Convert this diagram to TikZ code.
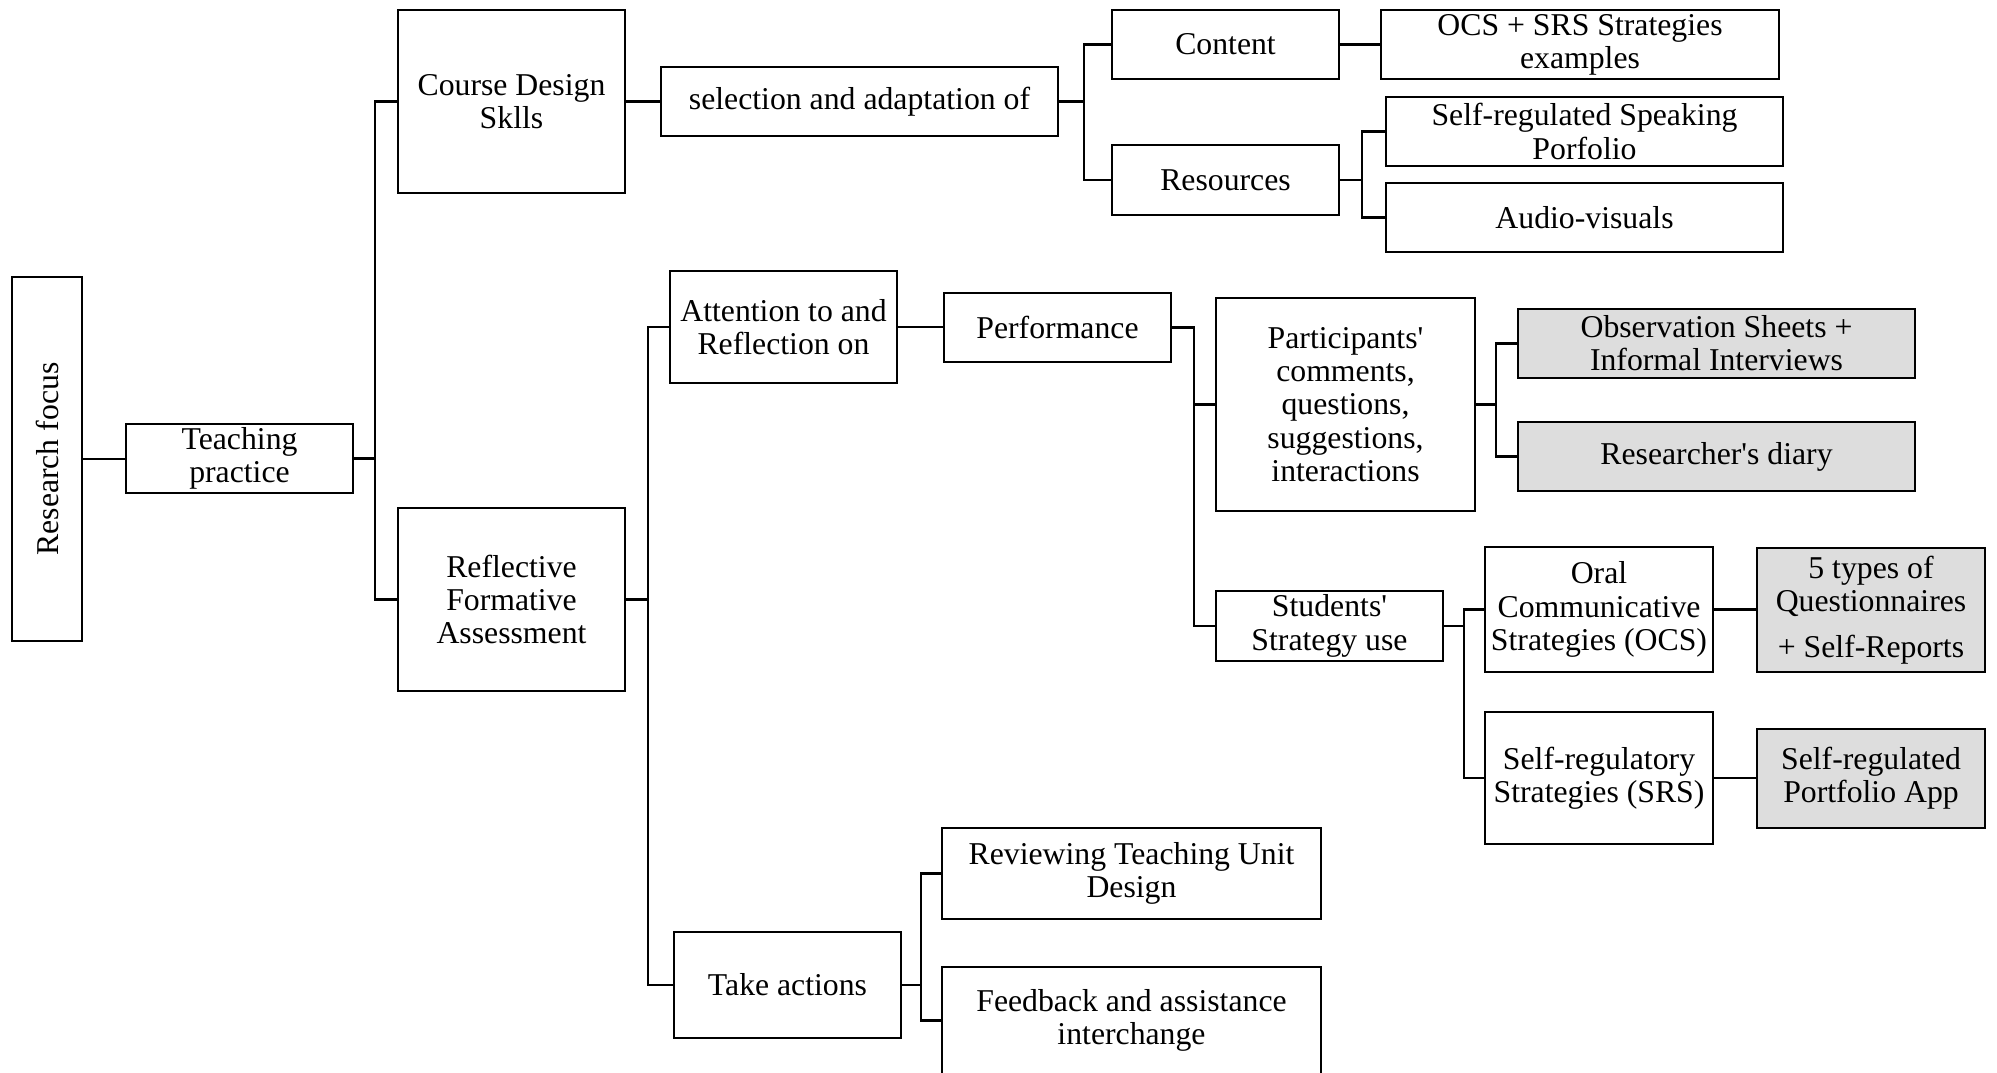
\documentclass[tikz,border=0pt]{standalone}
\usepackage{fontspec}
\setmainfont{Liberation Serif}
\definecolor{boxgray}{RGB}{221,221,221}
% place a box by its corner coordinates: style, name, x1, y1, x2, y2, text
\newcommand{\boxat}[7]{%
  \pgfmathsetmacro\bxw{(#5-#3)*0.4}%
  \pgfmathsetmacro\bxh{(#6-#4)*0.4}%
  \node[#1, minimum width=\bxw pt, minimum height=\bxh pt] (#2) at ({(#3+#5)/2},{(#4+#6)/2}) {#7};%
}
\newcommand{\apo}{\textquotesingle}
\begin{document}
\begin{tikzpicture}[x=0.4pt,y=-0.4pt,
  box/.style={draw=black, line width=1.1pt, fill=white, inner sep=0pt,
    align=center, font=\fontsize{12.7}{13.3}\selectfont},
  graybox/.style={box, fill=boxgray},
  link/.style={draw=black, line width=1.1pt}]
\useasboundingbox[fill=white] (0,0) rectangle (1997,1072);

% level 0 and 1
\boxat{box}{rf}{12}{277}{82}{641}{\rotatebox{90}{Research focus}}
\boxat{box}{tp}{126}{424}{353}{493}{Teaching\\practice}

% level 2
\boxat{box}{cds}{398}{10}{625}{193}{Course Design\\Sklls}
\boxat{box}{rfa}{398}{508}{625}{691}{Reflective\\Formative\\Assessment}

% course design branch
\boxat{box}{sel}{661}{67}{1058}{136}{selection and adaptation of}
\boxat{box}{content}{1112}{10}{1339}{79}{Content}
\boxat{box}{res}{1112}{145}{1339}{215}{Resources}
\boxat{box}{ex}{1381}{10}{1779}{79}{OCS + SRS Strategies\\examples}
\boxat{box}{port}{1386}{97}{1783}{166}{Self-regulated Speaking\\Porfolio}
\boxat{box}{av}{1386}{183}{1783}{252}{Audio-visuals}

% assessment branch
\boxat{box}{att}{670}{271}{897}{383}{Attention to and\\Reflection on}
\boxat{box}{perf}{944}{293}{1171}{362}{Performance}
\boxat{box}{part}{1216}{298}{1475}{511}{Participants\apo\\comments,\\questions,\\suggestions,\\interactions}
\boxat{graybox}{obs}{1518}{309}{1915}{378}{Observation Sheets +\\Informal Interviews}
\boxat{graybox}{diary}{1518}{422}{1915}{491}{Researcher\apo s diary}
\boxat{box}{stud}{1216}{591}{1443}{661}{Students\apo\\Strategy use}
\boxat{box}{ocs}{1485}{547}{1713}{672}{Oral\\Communicative\\Strategies (OCS)}
\boxat{box}{srs}{1485}{712}{1713}{844}{Self-regulatory\\Strategies (SRS)}
\boxat{graybox}{quest}{1757}{548}{1985}{672}{5 types of\\Questionnaires\\[5pt]+ Self-Reports}
\boxat{graybox}{app}{1757}{729}{1985}{828}{Self-regulated\\Portfolio App}

% actions branch
\boxat{box}{act}{674}{932}{901}{1038}{Take actions}
\boxat{box}{rev}{942}{828}{1321}{919}{Reviewing Teaching Unit\\Design}
\boxat{box}{fb}{942}{967}{1321}{1074}{Feedback and assistance\\interchange}

% junction columns
\coordinate (j1) at (375,0);
\coordinate (j2) at (1084,0);
\coordinate (j3) at (1362,0);
\coordinate (j4) at (648,0);
\coordinate (j5) at (1194,0);
\coordinate (j6) at (1496,0);
\coordinate (j7) at (1464,0);
\coordinate (j8) at (921,0);

% connectors
\draw[link] (rf.east) -- (rf.east -| tp.west);
\draw[link] (tp.east) -- (tp.east -| j1);
\draw[link] (cds.west) -- (cds.west -| j1) -- (rfa.west -| j1) -- (rfa.west);

\draw[link] (cds.east) -- (cds.east -| sel.west);
\draw[link] (sel.east) -- (sel.east -| j2);
\draw[link] (content.west) -- (content.west -| j2) -- (res.west -| j2) -- (res.west);
\draw[link] (content.east) -- (content.east -| ex.west);
\draw[link] (res.east) -- (res.east -| j3);
\draw[link] (port.west) -- (port.west -| j3) -- (av.west -| j3) -- (av.west);

\draw[link] (rfa.east) -- (rfa.east -| j4);
\draw[link] (att.west) -- (att.west -| j4) -- (act.west -| j4) -- (act.west);
\draw[link] (att.east) -- (att.east -| perf.west);
\draw[link] (perf.east) -- (perf.east -| j5) -- (stud.west -| j5) -- (stud.west);
\draw[link] (part.west -| j5) -- (part.west);
\draw[link] (part.east) -- (part.east -| j6);
\draw[link] (obs.west) -- (obs.west -| j6) -- (diary.west -| j6) -- (diary.west);
\draw[link] (stud.east) -- (stud.east -| j7);
\draw[link] (ocs.west) -- (ocs.west -| j7) -- (srs.west -| j7) -- (srs.west);
\draw[link] (ocs.east) -- (ocs.east -| quest.west);
\draw[link] (srs.east) -- (srs.east -| app.west);

\draw[link] (act.east) -- (act.east -| j8);
\draw[link] (rev.west) -- (rev.west -| j8) -- (fb.west -| j8) -- (fb.west);
\end{tikzpicture}
\end{document}
